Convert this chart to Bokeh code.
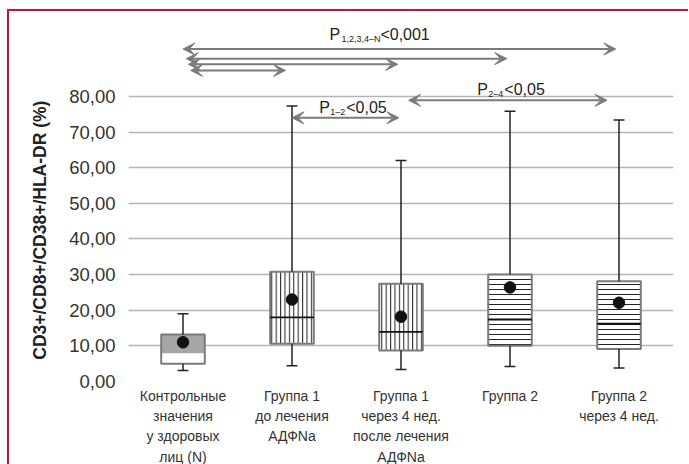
from bokeh.plotting import figure
from bokeh.models import FixedTicker, Arrow, VeeHead, Label, Range1d
from bokeh.embed import file_html
from bokeh.resources import INLINE

# ---------------- data ----------------
groups = [
    "Контрольные\nзначения\nу здоровых\nлиц (N)",
    "Группа 1\nдо лечения\nАДФNa",
    "Группа 1\nчерез 4 нед.\nпосле лечения\nАДФNa",
    "Группа 2",
    "Группа 2\nчерез 4 нед.",
]
pos = [1, 2, 3, 4, 5]
q1 = [5.0, 10.6, 8.7, 10.0, 9.1]
median = [7.9, 18.0, 13.9, 17.4, 16.2]
q3 = [13.2, 30.8, 27.4, 30.0, 28.1]
whisk_lo = [3.1, 4.4, 3.4, 4.2, 3.8]
whisk_hi = [19.0, 77.3, 62.0, 75.8, 73.4]
means = [11.0, 23.0, 18.2, 26.4, 22.1]

y_ticks = [0, 10, 20, 30, 40, 50, 60, 70, 80]
y_tick_labels = ["0,00", "10,00", "20,00", "30,00", "40,00", "50,00", "60,00", "70,00", "80,00"]
y_label = "CD3+/CD8+/CD38+/HLA-DR (%)"

# comparison arrows (group-position start/end, level in %)
cmp_x0 = [1.0, 1.03, 1.05, 1.07, 2.0, 3.07]
cmp_x1 = [4.97, 3.97, 2.97, 1.94, 2.98, 4.89]
cmp_y = [93.3, 90.6, 89.0, 87.3, 74.0, 78.9]

# p-value labels
p_main = ["P", "P", "P"]
p_sub = ["1,2,3,4–N", "1–2", "2–4"]
p_rest = ["<0,001", "<0,05", "<0,05"]
p_x = [2.343, 2.25, 3.70]
p_y = [97.3, 76.8, 81.9]

GREY = "#7b7b7b"
FONT = "Liberation Sans"

p = figure(
    frame_width=545, frame_height=361,
    x_range=Range1d(0.5, 5.5), y_range=Range1d(0, 101.3),
    output_backend="svg", toolbar_location=None,
    min_border_left=119, min_border_top=9, min_border_right=15, min_border_bottom=40,
)
p.styles = {"border-top": "2px solid #c8143c", "border-left": "2px solid #c8143c",
            "margin-left": "7px", "margin-top": "9px"}
p.outline_line_color = None
p.background_fill_color = "white"
p.border_fill_color = "white"

# grid / axes
p.xgrid.grid_line_color = None
p.ygrid.grid_line_color = "#b4b4b4"
p.ygrid.grid_line_width = 1.5
p.yaxis.ticker = FixedTicker(ticks=y_ticks)
p.yaxis.major_label_overrides = {t: l for t, l in zip(y_ticks, y_tick_labels)}
p.yaxis.axis_line_color = None
p.yaxis.major_tick_line_color = None
p.yaxis.minor_tick_line_color = None
p.yaxis.major_label_standoff = 7
p.yaxis.major_label_text_font = FONT
p.yaxis.major_label_text_font_size = "18.5px"
p.yaxis.major_label_text_color = "#333333"
# trailing no-break spaces shift the title down so it is centred on the 0–80 scale
p.yaxis.axis_label = y_label + "\u00a0" * 12
p.yaxis.axis_label_text_font = FONT
p.yaxis.axis_label_text_font_style = "bold"
p.yaxis.axis_label_text_font_size = "17.5px"
p.yaxis.axis_label_text_color = "#222222"
p.yaxis.axis_label_standoff = 16

p.xaxis.ticker = FixedTicker(ticks=pos)
p.xaxis.major_label_overrides = {x: g for x, g in zip(pos, groups)}
p.xaxis.axis_line_color = None
p.xaxis.major_tick_line_color = None
p.xaxis.minor_tick_line_color = None
p.xaxis.major_label_standoff = 0
p.xaxis.major_label_text_font = FONT
p.xaxis.major_label_text_font_size = "14px"
p.xaxis.major_label_text_line_height = 1.28
p.xaxis.major_label_text_color = "#333333"

# boxes
bw = 0.4
p.vbar(x=pos[0:1], bottom=q1[0:1], top=median[0:1], width=bw, fill_color="white", line_color=None)
p.vbar(x=pos[0:1], bottom=median[0:1], top=q3[0:1], width=bw, fill_color="#a6a6a6", line_color=None)
p.vbar(x=pos[0:1], bottom=q1[0:1], top=q3[0:1], width=bw, fill_color=None, line_color=GREY, line_width=2)
p.vbar(x=pos[1:3], bottom=q1[1:3], top=q3[1:3], width=bw, fill_color="white",
       hatch_pattern="|", hatch_scale=4.4, hatch_color="#222222", hatch_weight=1,
       line_color=GREY, line_width=2)
p.vbar(x=pos[3:5], bottom=q1[3:5], top=q3[3:5], width=bw, fill_color="white",
       hatch_pattern="-", hatch_scale=5, hatch_color="#222222", hatch_weight=1,
       line_color=GREY, line_width=2)

# medians
p.segment(x0=[x - bw / 2 for x in pos[1:]], x1=[x + bw / 2 for x in pos[1:]],
          y0=median[1:], y1=median[1:], line_color="#111111", line_width=1.8)

# whiskers
p.segment(x0=pos, x1=pos, y0=q3, y1=whisk_hi, line_color="#222222", line_width=1.5)
p.segment(x0=pos, x1=pos, y0=q1, y1=whisk_lo, line_color="#222222", line_width=1.5)
cw = 0.05
p.segment(x0=[x - cw for x in pos], x1=[x + cw for x in pos], y0=whisk_hi, y1=whisk_hi,
          line_color="#222222", line_width=1.5)
p.segment(x0=[x - cw for x in pos], x1=[x + cw for x in pos], y0=whisk_lo, y1=whisk_lo,
          line_color="#222222", line_width=1.5)

# means
p.scatter(x=pos, y=means, size=11.5, marker="circle", fill_color="#111111", line_color="#111111")

# comparison arrows
for xa, xb, yy in zip(cmp_x0, cmp_x1, cmp_y):
    p.add_layout(Arrow(
        x_start=xa, y_start=yy, x_end=xb, y_end=yy,
        line_color=GREY, line_width=2,
        start=VeeHead(size=12, fill_color=GREY, line_color=GREY, line_width=1),
        end=VeeHead(size=12, fill_color=GREY, line_color=GREY, line_width=1),
    ))

# p-value labels
sub_off = [12, 11, 11]
rest_off = [51, 27, 27]
for m, s, r, xx, yy, so, ro in zip(p_main, p_sub, p_rest, p_x, p_y, sub_off, rest_off):
    p.add_layout(Label(x=xx, y=yy, text=m, text_font=FONT, text_font_size="16px",
                       text_color="#222222", text_baseline="alphabetic", text_align="left"))
    p.add_layout(Label(x=xx, y=yy, x_offset=so, y_offset=-4, text=s, text_font=FONT,
                       text_font_size="9px", text_color="#222222",
                       text_baseline="alphabetic", text_align="left"))
    p.add_layout(Label(x=xx, y=yy, x_offset=ro, text=r, text_font=FONT, text_font_size="16px",
                       text_color="#222222", text_baseline="alphabetic", text_align="left"))

open("out.html", "w").write(file_html(p, INLINE))
